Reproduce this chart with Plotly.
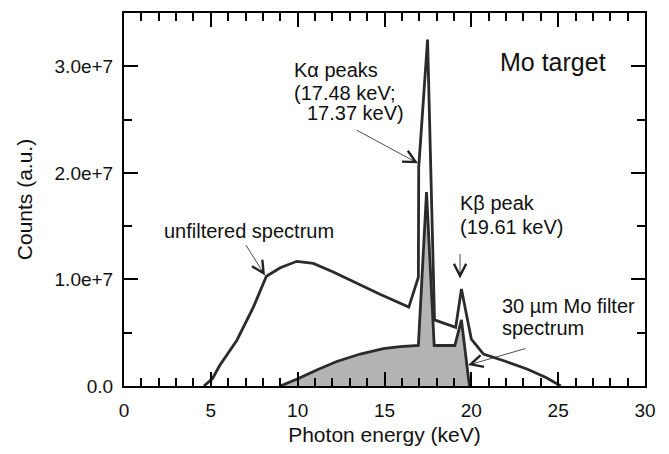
import plotly.graph_objects as go

# ---- data ----
energy_unf = [4.6, 5.1, 5.5, 6.5, 7.45, 8.2, 9.0, 9.95, 10.9, 12.05, 14.74, 16.4,
              16.95, 16.97, 17.48, 17.7, 17.88, 19.1, 19.43, 20.0, 20.7, 22.0,
              23.2, 24.3, 25.15]
counts_unf = [0.0, 0.07e7, 0.19e7, 0.43e7, 0.74e7, 1.03e7, 1.11e7, 1.17e7, 1.15e7,
              1.07e7, 0.86e7, 0.74e7, 1.02e7, 2.05e7, 3.25e7, 1.8e7, 0.62e7,
              0.55e7, 0.91e7, 0.44e7, 0.30e7, 0.23e7, 0.16e7, 0.08e7, 0.0]

energy_filt = [9.0, 10.04, 11.1, 12.25, 13.6, 14.93, 15.9, 16.95, 17.42, 17.86,
               19.05, 19.43, 19.83, 19.9]
counts_filt = [0.0, 0.07e7, 0.15e7, 0.23e7, 0.30e7, 0.35e7, 0.37e7, 0.38e7, 1.82e7,
               0.38e7, 0.38e7, 0.62e7, 0.08e7, 0.0]

x_ticks = [0, 5, 10, 15, 20, 25, 30]
x_ticktext = ["0", "5", "10", "15", "20", "25", "30"]
y_ticks = [0, 1e7, 2e7, 3e7]
y_ticktext = ["0.0", "1.0e+7", "2.0e+7", "3.0e+7"]

FONT = "Liberation Sans, Arial, sans-serif"
W, H = 669, 454
L, R, T, B = 124, 24, 11, 68
PW, PH = W - L - R, H - T - B


def px(x):
    return (x - L) / PW


def py(y):
    return (H - B - y) / PH


fig = go.Figure()
fig.add_trace(go.Scatter(
    x=energy_filt, y=counts_filt, mode="lines", fill="tozeroy",
    fillcolor="#b4b4b4", line=dict(color="#2b2b2b", width=2.8),
    hoverinfo="skip", showlegend=False))
fig.add_trace(go.Scatter(
    x=energy_unf, y=counts_unf, mode="lines",
    line=dict(color="#2b2b2b", width=2.8),
    hoverinfo="skip", showlegend=False))

axis_common = dict(
    showline=True, linecolor="black", linewidth=2, mirror="ticks",
    ticks="inside", tickwidth=2, ticklen=14, tickcolor="black",
    showgrid=False, zeroline=False,
    tickfont=dict(family=FONT, size=19, color="#111"),
)

fig.update_xaxes(
    range=[0, 30], tickvals=x_ticks, ticktext=x_ticktext,
    minor=dict(dtick=1, ticks="inside", ticklen=8, tickwidth=2, tickcolor="black",
               showgrid=False),
    ticklabelstandoff=6,
    title=dict(text="Photon energy (keV)", font=dict(family=FONT, size=21, color="#111"),
               standoff=8),
    **axis_common)
fig.update_yaxes(
    range=[0, 3.5e7], tickvals=y_ticks, ticktext=y_ticktext,
    minor=dict(dtick=0.5e7, tick0=0, ticks="inside", ticklen=8, tickwidth=2,
               tickcolor="black", showgrid=False),
    ticklabelstandoff=5,
    title=dict(text="Counts (a.u.)", font=dict(family=FONT, size=21, color="#111"),
               standoff=16),
    **axis_common)

texts = [
    ("unfiltered spectrum", 162, 230, "left", 20),
    ("K\u03b1 peaks", 292, 68, "left", 20),
    ("(17.48 keV;", 292, 91, "left", 20),
    ("17.37 keV)", 305, 112, "left", 20),
    ("K\u03b2 peak", 458, 202, "left", 20),
    ("(19.61 keV)", 458, 226, "left", 20),
    ("30 \u00b5m Mo filter", 500, 306, "left", 20),
    ("spectrum", 500, 328, "left", 20),
    ("Mo target", 608, 60, "right", 25),
]
for txt, x, y, anc, size in texts:
    fig.add_annotation(text=txt, x=px(x), y=py(y), xref="paper", yref="paper",
                       xanchor=anc, yanchor="middle", showarrow=False,
                       font=dict(family=FONT, size=size, color="#111"))

# arrows: tip in data coords, tail offset in pixels
arrows = [
    (8.12, 1.036e7, -20, -32),
    (16.93, 2.09e7, -63, -34),
    (19.35, 1.008e7, 0, -26),
    (19.81, 0.196e7, 59, -17),
]
for x, y, ax, ay in arrows:
    fig.add_annotation(x=x, y=y, xref="x", yref="y", ax=ax, ay=ay, text="",
                       showarrow=True, arrowhead=5, arrowsize=3, arrowwidth=0.8,
                       arrowcolor="#222", standoff=0)

fig.update_layout(
    width=W, height=H, margin=dict(l=L, r=R, t=T, b=B),
    paper_bgcolor="white", plot_bgcolor="white",
    font=dict(family=FONT, color="#111"),
)

fig.write_html("out.html")
